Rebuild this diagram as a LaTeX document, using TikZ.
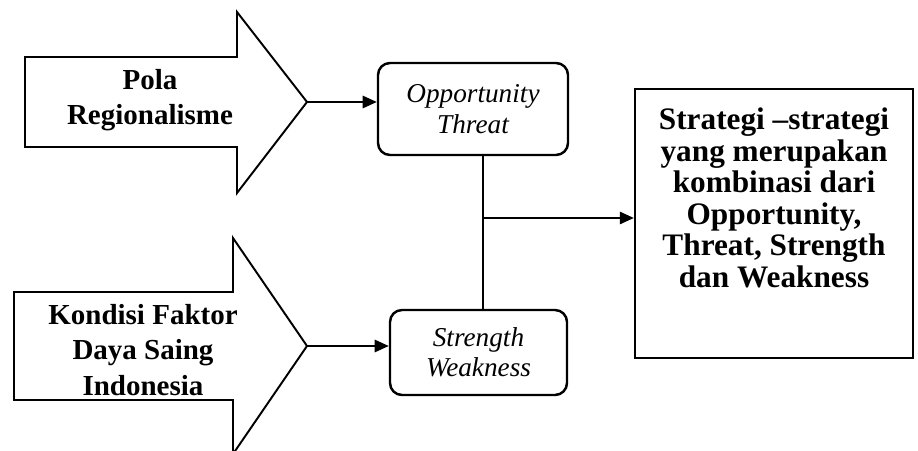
\documentclass[tikz,border=0pt]{standalone}
\usepackage{fontspec}
\setmainfont{Liberation Serif}
\usetikzlibrary{arrows.meta,positioning}

\begin{document}
\begin{tikzpicture}[
    blockarrow/.style={draw, line width=1.1pt, line join=miter},
    arrowtext/.style={align=center, font=\fontsize{16.5}{20}\selectfont\bfseries},
    swotbox/.style={draw, line width=1.4pt, rounded corners=0.24cm, align=center, font=\fontsize{15.5}{17.3}\selectfont\itshape},
    stratbox/.style={draw, line width=1.3pt, minimum width=5.56cm, minimum height=5.38cm},
    strattext/.style={align=center, font=\fontsize{17.8}{17.9}\selectfont\bfseries},
    link/.style={line width=1.1pt, -{Triangle[length=8pt,width=7pt]}}
]
    \useasboundingbox (0,0) rectangle (18.36,9);

    % Block arrow: Pola Regionalisme
    \draw[blockarrow] (0.5,6.06) -- (0.5,7.86) -- (4.74,7.86) -- (4.74,8.76) -- (6.14,6.96) -- (4.74,5.14) -- (4.74,6.06) -- cycle;
    \coordinate (polaTip) at (6.14,6.96);
    \node[arrowtext] (pola) at (3.0,7.0) {Pola\\Regionalisme};

    % Block arrow: Kondisi Faktor
    \draw[blockarrow] (0.28,1.0) -- (0.28,3.16) -- (4.66,3.16) -- (4.66,4.24) -- (6.14,2.08) -- (4.66,-0.08) -- (4.66,1.0) -- cycle;
    \coordinate (kondisiTip) at (6.14,2.08);
    \node[arrowtext] (kondisi) at (2.86,2.0) {Kondisi Faktor\\Daya Saing\\Indonesia};

    % SWOT boxes
    \node[swotbox, minimum width=3.8cm, minimum height=1.84cm] (ot) at (9.46,6.82) {Opportunity\\Threat};
    \node[swotbox, minimum width=3.54cm, minimum height=1.7cm] (sw) at (9.57,1.95) {Strength\\Weakness};

    % Strategy box
    \node[stratbox] (strat) at (15.48,4.53) {};
    \node[strattext, below=0.28cm of strat.north] (strategi) {Strategi –strategi\\yang merupakan\\kombinasi dari\\Opportunity,\\Threat, Strength\\dan Weakness};

    % Connectors
    \draw[link] (polaTip) -- (polaTip -| ot.west);
    \draw[link] (kondisiTip) -- (kondisiTip -| sw.west);
    \coordinate (junction) at (9.66,4.64);
    \draw[line width=1.1pt] (junction |- ot.south) -- (junction |- sw.north);
    \draw[link] (junction) -- (junction -| strat.west);

\end{tikzpicture}
\end{document}
